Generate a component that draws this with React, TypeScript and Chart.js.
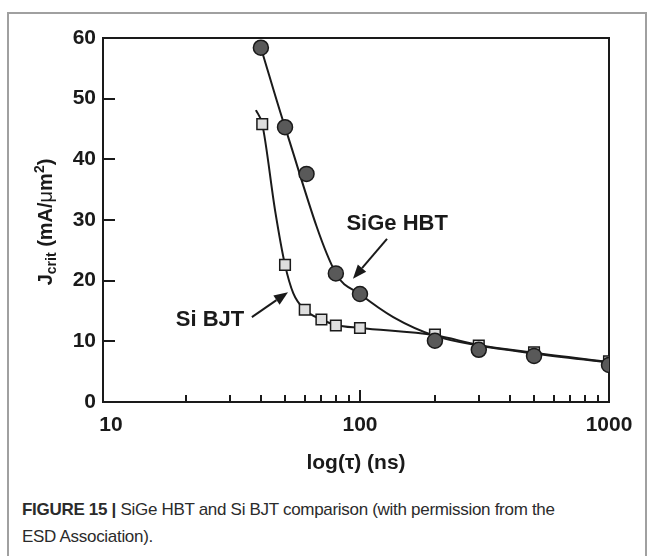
import React, { useEffect, useRef } from "react";
import { Chart, registerables } from "chart.js";

Chart.register(...registerables);

// ---- data ----
const sigeTau = [40, 50, 61, 80, 100, 200, 300, 500, 1000];
const sigeJ = [58.4, 45.3, 37.6, 21.2, 17.8, 10.1, 8.6, 7.6, 6.1];

const siTau = [40.5, 50, 60, 70, 80, 100, 200, 300, 500, 1000];
const siJ = [45.8, 22.6, 15.2, 13.6, 12.6, 12.2, 11.1, 9.3, 8.2, 6.7];

// fitted curves
const sigeFitTau = [40, 50, 80, 100, 136, 200, 300, 500, 1000];
const sigeFitJ = [58.4, 45.3, 21.2, 17.8, 14.0, 10.9, 9.3, 8.0, 6.5];

const siFitTau = [38.2, 40.5, 45.6, 50, 54, 60, 70, 80, 100, 200, 300, 500, 1000];
const siFitJ = [48.1, 45.8, 31.6, 22.6, 17.9, 15.2, 13.6, 12.7, 12.2, 11.0, 9.4, 8.1, 6.6];

// axes
const xMin = 9.29;
const xMax = 1000;
const yMin = 0;
const yMax = 60;
const xLabelValues = [10, 100, 1000];
const xTickMarks = [20, 30, 40, 50, 60, 70, 80, 90, 100, 200, 300, 400, 500, 600, 700, 800, 900];
const xMajorMarks = [100];
const yTickValues = [10, 20, 30, 40, 50];

// annotations (data units)
const annotTexts = ["SiGe HBT", "Si BJT"];
const annotTau = [141, 25];
const annotJ = [29.3, 13.5];
// arrows: from -> to
const arrowFromTau = [128.4, 36.8];
const arrowFromJ = [26.9, 14.0];
const arrowToTau = [93.7, 51.4];
const arrowToJ = [20.3, 18.1];

const INK = "#1a1a1a";
const FONT = "'Liberation Sans', Arial, Helvetica, sans-serif";

const pts = (xs: number[], ys: number[]) => xs.map((x, i) => ({ x, y: ys[i] }));

const decorPlugin = {
  id: "decor",
  beforeDatasetsDraw(chart: any) {
    const { ctx, chartArea: a, scales } = chart;
    const xs = scales.x;
    const ys = scales.y;
    ctx.save();
    ctx.strokeStyle = INK;
    ctx.lineWidth = 2;
    ctx.strokeRect(a.left, a.top, a.right - a.left, a.bottom - a.top);
    ctx.beginPath();
    xTickMarks.forEach((v) => {
      const px = Math.round(xs.getPixelForValue(v));
      const len = xMajorMarks.includes(v) ? 12 : 7;
      ctx.moveTo(px, a.bottom);
      ctx.lineTo(px, a.bottom - len);
    });
    yTickValues.forEach((v) => {
      const py = Math.round(ys.getPixelForValue(v));
      ctx.moveTo(a.left, py);
      ctx.lineTo(a.left + 12, py);
    });
    ctx.stroke();
    ctx.restore();
  },
  afterDraw(chart: any) {
    const { ctx, scales, chartArea: a } = chart;
    const xs = scales.x;
    const ys = scales.y;
    ctx.save();
    ctx.fillStyle = INK;
    ctx.strokeStyle = INK;
    // annotation labels
    ctx.font = `bold 22px ${FONT}`;
    ctx.textAlign = "center";
    ctx.textBaseline = "middle";
    annotTexts.forEach((t, i) => {
      ctx.fillText(t, xs.getPixelForValue(annotTau[i]), ys.getPixelForValue(annotJ[i]));
    });
    // arrows
    arrowFromTau.forEach((_, i) => {
      const x1 = xs.getPixelForValue(arrowFromTau[i]);
      const y1 = ys.getPixelForValue(arrowFromJ[i]);
      const x2 = xs.getPixelForValue(arrowToTau[i]);
      const y2 = ys.getPixelForValue(arrowToJ[i]);
      const ang = Math.atan2(y2 - y1, x2 - x1);
      const hl = 14;
      const hw = 5.5;
      const bx = x2 - hl * Math.cos(ang);
      const by = y2 - hl * Math.sin(ang);
      ctx.lineWidth = 2;
      ctx.beginPath();
      ctx.moveTo(x1, y1);
      ctx.lineTo(bx, by);
      ctx.stroke();
      ctx.beginPath();
      ctx.moveTo(x2, y2);
      ctx.lineTo(bx + hw * Math.sin(ang), by - hw * Math.cos(ang));
      ctx.lineTo(bx - hw * Math.sin(ang), by + hw * Math.cos(ang));
      ctx.closePath();
      ctx.fill();
    });
    // y axis title: J_crit (mA/µm^2)
    const parts = [
      { t: "J", f: `bold 20px ${FONT}`, dy: 0 },
      { t: "crit", f: `bold 14px ${FONT}`, dy: 4 },
      { t: " (mA/", f: `bold 20px ${FONT}`, dy: 0 },
      { t: "\u03bc", f: `20px ${FONT}`, dy: 0 },
      { t: "m", f: `bold 20px ${FONT}`, dy: 0 },
      { t: "2", f: `bold 14px ${FONT}`, dy: -8 },
      { t: ")", f: `bold 20px ${FONT}`, dy: 0 },
    ];
    let total = 0;
    const widths = parts.map((p) => {
      ctx.font = p.f;
      const w = ctx.measureText(p.t).width;
      total += w;
      return w;
    });
    const cy = (a.top + a.bottom) / 2 + 2;
    ctx.translate(0, cy);
    ctx.rotate(-Math.PI / 2);
    ctx.textAlign = "left";
    ctx.textBaseline = "alphabetic";
    let lx = -total / 2;
    parts.forEach((p, i) => {
      ctx.font = p.f;
      ctx.fillText(p.t, lx, 52 + p.dy);
      lx += widths[i];
    });
    ctx.restore();
  },
};

export default function App() {
  const ref = useRef<HTMLCanvasElement | null>(null);
  useEffect(() => {
    if (!ref.current) return;
    const chart = new Chart(ref.current, {
      type: "scatter",
      data: {
        datasets: [
          {
            label: "SiGe HBT",
            data: pts(sigeTau, sigeJ),
            showLine: false,
            pointStyle: "circle",
            pointRadius: 7.5,
            backgroundColor: "#595959",
            borderColor: INK,
            borderWidth: 1.5,
            order: 0,
          },
          {
            label: "Si BJT",
            data: pts(siTau, siJ),
            showLine: false,
            pointStyle: "rect",
            pointRadius: 7.5,
            backgroundColor: "#dedede",
            borderColor: INK,
            borderWidth: 1.5,
            order: 1,
          },
          {
            label: "SiGe fit",
            data: pts(sigeFitTau, sigeFitJ),
            showLine: true,
            pointRadius: 0,
            borderColor: INK,
            borderWidth: 2,
            cubicInterpolationMode: "monotone",
            order: 2,
          },
          {
            label: "Si fit",
            data: pts(siFitTau, siFitJ),
            showLine: true,
            pointRadius: 0,
            borderColor: INK,
            borderWidth: 2,
            cubicInterpolationMode: "monotone",
            order: 3,
          },
        ] as any,
      },
      options: {
        animation: false,
        responsive: false,
        events: [],
        layout: { padding: { top: 38, right: 46, left: 0, bottom: 0 } },
        plugins: { legend: { display: false }, tooltip: { enabled: false } },
        scales: {
          x: {
            type: "logarithmic",
            min: xMin,
            max: xMax,
            grid: { display: false, drawTicks: false },
            border: { display: false },
            afterBuildTicks: (s: any) => {
              s.ticks = xLabelValues.map((v) => ({ value: v }));
            },
            afterFit: (s: any) => {
              s.height = 78;
            },
            ticks: {
              autoSkip: false,
              maxRotation: 0,
              padding: 11,
              color: INK,
              font: { family: FONT, weight: "bold", size: 21 },
              callback: (v: any) => String(v),
            },
            title: {
              display: true,
              text: "log(\u03c4) (ns)",
              color: INK,
              font: { family: FONT, weight: "bold", size: 21 },
              padding: { top: 0, bottom: 4 },
            },
          },
          y: {
            type: "linear",
            min: yMin,
            max: yMax,
            grid: { display: false, drawTicks: false },
            border: { display: false },
            afterFit: (s: any) => {
              s.width = 103;
            },
            ticks: {
              stepSize: 10,
              padding: 7,
              color: INK,
              font: { family: FONT, weight: "bold", size: 21 },
            },
          },
        },
      },
      plugins: [decorPlugin],
    } as any);
    return () => chart.destroy();
  }, []);

  return (
    <div style={{ position: "absolute", left: 0, top: 0, width: 655, height: 556, overflow: "hidden", background: "#fff" }}>
      <div
        style={{
          position: "absolute",
          left: 7,
          top: 12,
          width: 640,
          height: 544,
          boxSizing: "border-box",
          borderTop: "2px solid #a0a0a0",
          borderLeft: "2px solid #a0a0a0",
          borderRight: "2px solid #a0a0a0",
        }}
      />
      <canvas ref={ref} width={655} height={480} style={{ position: "absolute", left: 0, top: 0, width: 655, height: 480 }} />
      <div
        style={{
          position: "absolute",
          left: 22,
          top: 496,
          width: 620,
          fontFamily: FONT,
          fontSize: 17,
          letterSpacing: "-0.3px",
          lineHeight: "27px",
          color: "#2b2b2b",
          whiteSpace: "nowrap",
        }}
      >
        <b>FIGURE 15 |</b> SiGe HBT and Si BJT comparison (with permission from the
        <br />
        ESD Association).
      </div>
    </div>
  );
}
